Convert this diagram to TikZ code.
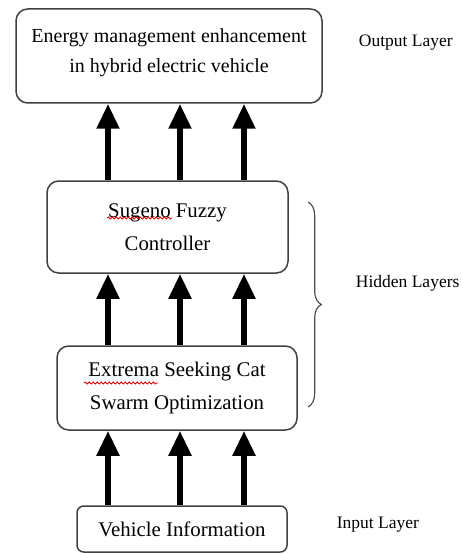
\documentclass[tikz,border=0pt]{standalone}
\usepackage{fontspec}
\setmainfont{Liberation Serif}
\usetikzlibrary{arrows.meta, positioning, decorations.pathreplacing, decorations.pathmorphing}
\tikzstyle{uparrow} = [line width=3.6pt, -{Triangle[width=13pt,length=15pt]}]
\tikzstyle{layer} = [rectangle, rounded corners=7pt, draw=black!75, line width=0.9pt, text centered, align=center, fill=white]

\begin{document}
\begin{tikzpicture}[x=0.6pt, y=-0.6pt,
        boxtext/.style={font=\fontsize{12.5}{19.5}\selectfont},
        sidelabel/.style={anchor=west, font=\fontsize{10.5}{13}\selectfont},
        squiggle/.style={draw=red!85!black, line width=0.5pt, decorate,
            decoration={snake, amplitude=0.6pt, segment length=2.4pt}}]

    \useasboundingbox (0,0) rectangle (462,554);

    % the four layers, top to bottom
    \node [layer, font=\fontsize{12}{18}\selectfont, text depth=7pt,
        minimum width=183.6pt, minimum height=56.4pt] (output) at (169,56)
        {Energy management enhancement\\in hybrid electric vehicle};
    \node [layer, boxtext, minimum width=144.6pt, minimum height=55.2pt] (sugeno) at (167.5,227)
        {Sugeno Fuzzy\\Controller};
    \node [layer, boxtext, minimum width=144pt, minimum height=50.4pt] (escso) at (177,388)
        {Extrema Seeking Cat\\Swarm Optimization};
    \node [layer, boxtext, rounded corners=4pt, minimum width=126pt, minimum height=27.6pt] (vehicle) at (182,529)
        {Vehicle Information};

    % layer names on the right
    \node [sidelabel] (outlbl) at (353,43) {Output Layer};
    \node [sidelabel] (hidlbl) at (350,283) {Hidden Layers};
    \node [sidelabel] (inlbl) at (331,525) {Input Layer};
    \draw [decorate, decoration={brace, amplitude=8pt}, line width=0.7pt, draw=black!70]
        (308,202) -- (308,407);

    % spell-check marks
    \draw [squiggle] (107,218) -- (172,218);
    \draw [squiggle] (84,383) -- (158,383);

    % three columns of arrows
    \coordinate (c1) at (108,0);
    \coordinate (c2) at (180,0);
    \coordinate (c3) at (244,0);

    \draw [uparrow] (c1 |- sugeno.north) -- (c1 |- output.south);
    \draw [uparrow] (c2 |- sugeno.north) -- (c2 |- output.south);
    \draw [uparrow] (c3 |- sugeno.north) -- (c3 |- output.south);

    \draw [uparrow] (c1 |- escso.north) -- (c1 |- sugeno.south);
    \draw [uparrow] (c2 |- escso.north) -- (c2 |- sugeno.south);
    \draw [uparrow] (c3 |- escso.north) -- (c3 |- sugeno.south);

    \draw [uparrow] (c1 |- vehicle.north) -- (c1 |- escso.south);
    \draw [uparrow] (c2 |- vehicle.north) -- (c2 |- escso.south);
    \draw [uparrow] (c3 |- vehicle.north) -- (c3 |- escso.south);
\end{tikzpicture}
\end{document}
